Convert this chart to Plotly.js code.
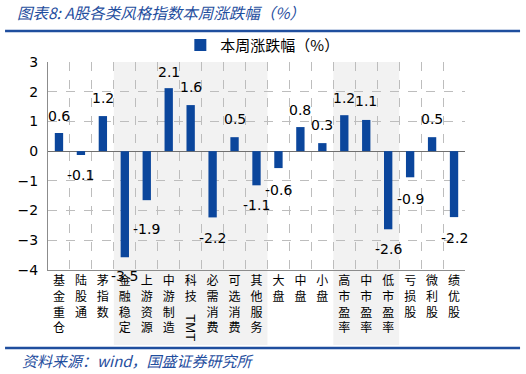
<!DOCTYPE html>
<html>
<head>
<meta charset="utf-8">
<script src="https://cdn.plot.ly/plotly-3.0.1.min.js"></script>
<style>html,body{margin:0;padding:0;background:#fff;}#chart{width:526px;height:374px;}</style>
</head>
<body>
<div id="chart"></div>
<script>
const categories = ["基金重仓","陆股通","茅指数","金融稳定","上游资源","中游制造","科技TMT","必需消费","可选消费","其他服务","大盘","中盘","小盘","高市盈率","中市盈率","低市盈率","亏损股","微利股","绩优股"];
const weeklyChange = [0.61,-0.13,1.18,-3.57,-1.65,2.12,1.55,-2.23,0.47,-1.15,-0.57,0.81,0.27,1.21,1.05,-2.63,-0.88,0.47,-2.22];
const valueLabels = ["0.6","-0.1","1.2","-3.5","-1.9","2.1","1.6","-2.2","0.5","-1.1","-0.6","0.8","0.3","1.2","1.1","-2.6","-0.9","0.5","-2.2"];
const shadedGroups = [["金融稳定","其他服务"],["高市盈率","低市盈率"]];
const seriesName = "本周涨跌幅（%）";
const titleText = "图表8: A股各类风格指数本周涨跌幅（%）";
const sourceText = "资料来源：wind，国盛证券研究所";

const BLUE = "#0B469C";
const NAVY = "#1F4E9E";
const CJK = "Noto Sans CJK SC";
const NUM = "DejaVu Sans";

function vertical(label){
  if (label === "科技TMT") return "科<br>技<br> <br> ";
  return label.split("").join("<br>");
}

const shapes = [];
shadedGroups.forEach(g => {
  const a = categories.indexOf(g[0]), b = categories.indexOf(g[1]);
  shapes.push({type:"rect", xref:"x", yref:"paper", x0:a-0.5, x1:b+0.5, y0:-0.36, y1:1,
    fillcolor:"#F2F2F2", line:{width:0}, layer:"below"});
});
shapes.push({type:"line", xref:"paper", yref:"paper", x0:-0.103, x1:1.132, y0:1.149, y1:1.149, line:{color:NAVY, width:2.5}});
shapes.push({type:"line", xref:"paper", yref:"paper", x0:-0.103, x1:1.132, y0:-0.375, y1:-0.375, line:{color:NAVY, width:2.5}});

const annotations = categories.map((c,i) => {
  const v = parseFloat(valueLabels[i]);
  return {x:c, y:v, xref:"x", yref:"y", text:valueLabels[i], showarrow:false,
    yshift: v >= 0 ? 17 : -21, font:{family:NUM, size:14, color:"#000"}};
});
annotations.push({x:"科技TMT", xref:"x", yref:"paper", y:-0.279, xanchor:"center", yanchor:"middle",
  text:"TMT", textangle:90, showarrow:false, font:{family:"Liberation Sans", size:13, color:"#000"}});
annotations.push({x:-0.067, xref:"paper", y:-0.433, yref:"paper", xanchor:"left", yanchor:"middle",
  text:sourceText, showarrow:false, font:{family:CJK, size:15, color:NAVY, style:"italic"}});

const trace = {
  type:"bar", x:categories, y:weeklyChange, name:seriesName,
  marker:{color:BLUE}, width:0.38, showlegend:true
};

const layout = {
  width:526, height:374,
  margin:{l:48, r:61, t:62, b:104, pad:0},
  paper_bgcolor:"#fff", plot_bgcolor:"rgba(0,0,0,0)",
  title:{text:titleText, xref:"container", yref:"container", x:17/526, y:1-14/374,
    xanchor:"left", yanchor:"middle", font:{family:CJK, size:15.5, color:NAVY, style:"italic"}},
  showlegend:true,
  legend:{orientation:"h", x:0.514, xanchor:"center", y:1.08, yanchor:"middle", itemwidth:20,
    font:{family:CJK, size:15, color:"#000"}, bgcolor:"rgba(0,0,0,0)"},
  xaxis:{type:"category", tickmode:"array", tickvals:categories, ticktext:categories.map(vertical),
    tickson:"boundaries", ticks:"", showgrid:true, gridcolor:"#BDBDBD", griddash:"dash", gridwidth:1,
    showline:true, linecolor:"#8C8C8C", linewidth:1,
    tickfont:{family:CJK, size:12, color:"#000"}, range:[-0.5, categories.length-0.5], fixedrange:true},
  yaxis:{range:[-4,3], dtick:1, tick0:0, showgrid:true, gridcolor:"#BDBDBD", griddash:"dash", gridwidth:1,
    showline:true, linecolor:"#8C8C8C", linewidth:1, ticks:"",
    zeroline:true, zerolinecolor:"#6F6F6F", zerolinewidth:1,
    tickfont:{family:NUM, size:14, color:"#000"}, ticklabelstandoff:6, fixedrange:true},
  shapes:shapes, annotations:annotations, bargap:0.6
};

Plotly.newPlot("chart", [trace], layout, {displayModeBar:false, staticPlot:true});
</script>
</body>
</html>
